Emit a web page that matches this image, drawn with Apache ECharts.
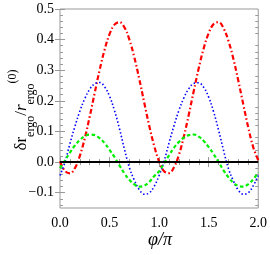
<!DOCTYPE html>
<html><head><meta charset="utf-8">
<script src="https://cdn.jsdelivr.net/npm/echarts@6/dist/echarts.min.js"></script>
<style>html,body{margin:0;padding:0;background:#fff}#c{width:270px;height:255px}</style>
</head><body><div id="c"></div>
<script>
const phi = [0,0.05,0.10,0.15,0.20,0.25,0.30,0.35,0.40,0.45,0.50,0.55,0.60,0.65,0.70,0.75,0.80,0.85,0.90,0.95,
             1.00,1.05,1.10,1.15,1.20,1.25,1.30,1.35,1.40,1.45,1.50,1.55,1.60,1.65,1.70,1.75,1.80,1.85,1.90,1.95,2.00];
const redVals = [0.002,-0.029,-0.037,-0.020,0.020,0.078,0.149,0.226,0.301,0.367,0.418,0.449,0.457,0.440,0.400,0.342,0.271,0.194,0.119,0.053,
                 0.002,-0.030,-0.036,-0.017,0.024,0.084,0.156,0.233,0.307,0.372,0.421,0.451,0.457,0.437,0.395,0.336,0.264,0.187,0.112,0.048,0.006];
const blueVals = [-0.044,0.000,0.060,0.116,0.166,0.207,0.238,0.256,0.260,0.246,0.215,0.168,0.109,0.042,-0.018,-0.059,-0.090,-0.105,-0.101,-0.079,
                  -0.044,0.003,0.063,0.119,0.169,0.210,0.240,0.257,0.259,0.244,0.212,0.164,0.104,0.038,-0.022,-0.062,-0.092,-0.105,-0.100,-0.077,-0.044];
const greenVals = [-0.020,0.005,0.031,0.054,0.072,0.085,0.090,0.088,0.078,0.062,0.040,0.016,-0.011,-0.037,-0.058,-0.073,-0.080,-0.077,-0.065,-0.046,
                   -0.030,-0.004,0.022,0.047,0.066,0.080,0.088,0.090,0.083,0.069,0.049,0.026,0.000,-0.027,-0.050,-0.068,-0.078,-0.080,-0.072,-0.056,-0.034];
const zeroLine = [[0,0],[2,0]];
const yMajorTicks = [-0.1,0,0.1,0.2,0.3,0.4,0.5];
const yMinorTicks = [-0.14,-0.12,-0.08,-0.06,-0.04,-0.02,0.02,0.04,0.06,0.08,0.12,0.14,0.16,0.18,0.22,0.24,0.26,0.28,0.32,0.34,0.36,0.38,0.42,0.44,0.46,0.48];

const pair = a => phi.map((x,i)=>[x,a[i]]);
const serif = 'Liberation Serif';
const tickCol = '#999';
const fmt = v => (v<0?'\u2212':'') + Math.abs(v).toFixed(1);

function yAx(pos, vals, len, labels){
  return {type:'value', min:-0.15, max:0.5, position:pos,
    axisLine:{show:false}, splitLine:{show:false},
    axisTick:{show:true, inside:true, length:len, customValues:vals, lineStyle:{color:tickCol}},
    axisLabel:{show:labels, customValues:vals, formatter:fmt, fontFamily:serif, fontSize:14, color:'#000', margin:6}};
}
function xAx(pos, labels){
  return {type:'value', min:0, max:2, interval:0.5, position:pos,
    axisLine:{show:false}, splitLine:{show:false},
    axisTick:{show:true, inside:true, length:5, lineStyle:{color:tickCol}},
    minorTick:{show:true, splitNumber:5, length:3, lineStyle:{color:tickCol}},
    minorSplitLine:{show:false},
    axisLabel:{show:labels, formatter:v=>v.toFixed(1), fontFamily:serif, fontSize:14, color:'#000', margin:8}};
}

const chart = echarts.init(document.getElementById('c'), null, {renderer:'canvas'});
chart.setOption({
  animation:false,
  backgroundColor:'#fff',
  grid:{left:60, right:10, top:9, bottom:47, show:true, borderColor:'#999', borderWidth:1, backgroundColor:'transparent'},
  xAxis:[xAx('bottom',true), xAx('top',false)],
  yAxis:[yAx('left',yMajorTicks,5,true), yAx('right',yMajorTicks,5,false), yAx('left',yMinorTicks,3,false), yAx('right',yMinorTicks,3,false)],
  series:[
    {type:'line', data:pair(redVals), smooth:0.4, symbol:'none', lineStyle:{color:'#ff0000', width:2.2, type:[5,2.5,1.5,2.5]}},
    {type:'line', data:pair(blueVals), smooth:0.4, symbol:'none', lineStyle:{color:'#0000ff', width:1.6, type:[1.5,2.2]}},
    {type:'line', data:pair(greenVals), smooth:0.4, symbol:'none', lineStyle:{color:'#00ee00', width:2.2, type:[3.5,2.5]}},
    {type:'line', data:zeroLine, symbol:'none', lineStyle:{color:'#000', width:2}}
  ],
  graphic:[
    {type:'text', x:22, y:110, rotation:Math.PI/2,
     style:{text:'{m|\u03b4r}{s|ergo}{m|/}{i|r}{s|ergo}{p|(0)}', align:'center', verticalAlign:'middle',
       rich:{
         m:{fontFamily:serif, fontSize:17, color:'#000', lineHeight:30, verticalAlign:'middle'},
         i:{fontFamily:serif, fontSize:17, fontStyle:'italic', color:'#000', lineHeight:30, verticalAlign:'middle'},
         s:{fontFamily:serif, fontSize:12, color:'#000', lineHeight:20, verticalAlign:'bottom'},
         p:{fontFamily:serif, fontSize:12, color:'#000', lineHeight:14, verticalAlign:'top'}
       }}},
    {type:'text', x:160, y:240,
     style:{text:'\u03c6/\u03c0', fontFamily:serif, fontSize:18, fontStyle:'italic', fill:'#000', align:'center', verticalAlign:'middle'}}
  ]
});
</script></body></html>
